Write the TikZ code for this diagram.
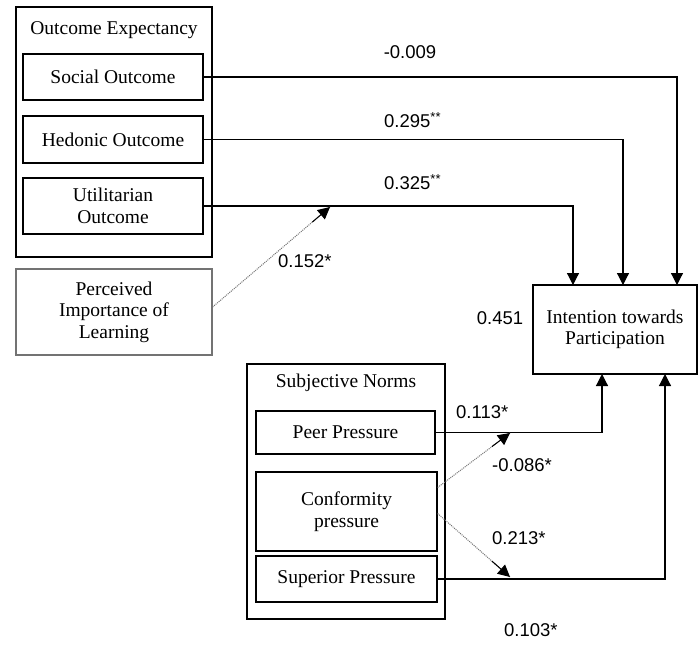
\documentclass[tikz,border=0pt]{standalone}
\usepackage{fontspec}
\setmainfont{Liberation Serif}
\newfontfamily\numfont{Liberation Sans}
\usetikzlibrary{arrows.meta,calc}
\begin{document}
\begin{tikzpicture}[x=1pt,y=-1pt,
  box/.style={draw=black,line width=1.2pt,align=center,inner sep=0pt,
    font=\fontsize{19.5}{21.5}\selectfont},
  gbox/.style={draw=black!55,line width=1.2pt,align=center,inner sep=0pt,
    font=\fontsize{19.5}{21.5}\selectfont},
  title/.style={font=\fontsize{19.5}{21.5}\selectfont,inner sep=0pt},
  path/.style={line width=1.2pt,-{Triangle[length=12pt,width=12pt]}},
  mod/.style={draw=black!55,line width=1pt,densely dotted},
  modtip/.style={solid,draw=black,line width=1pt,-{Triangle[length=12pt,width=12pt]}},
  coef/.style={font=\numfont\fontsize{18.5}{20}\selectfont,inner sep=0pt}]
\useasboundingbox[fill=white] (0,0) rectangle (699,645);

% Outcome expectancy group
\node[box,minimum width=196pt,minimum height=250pt] (oe) at (114,132) {};
\node[title] (oet) at (114,30) {Outcome Expectancy};
\node[box,minimum width=180pt,minimum height=46pt] (soc) at (113,77) {Social Outcome};
\node[box,minimum width=180pt,minimum height=47pt] (hed) at (113,139.5) {Hedonic Outcome};
\node[box,minimum width=180pt,minimum height=56pt] (uti) at (113,206) {Utilitarian\\Outcome};

\node[gbox,minimum width=196pt,minimum height=86pt] (pil) at (114,312) {Perceived\\Importance of\\Learning};

% Intention
\node[box,minimum width=164pt,minimum height=89pt] (int) at (615,329.5) {Intention towards\\Participation};

% Subjective norms group
\node[box,minimum width=198pt,minimum height=255pt] (sn) at (346,491.5) {};
\node[title] (snt) at (346,383) {Subjective Norms};
\node[box,minimum width=179pt,minimum height=43pt] (peer) at (345.5,432.5) {Peer Pressure};
\node[box,minimum width=181pt,minimum height=79pt] (conf) at (346.5,511.5) {Conformity\\pressure};
\node[box,minimum width=181pt,minimum height=46pt] (sup) at (346.5,579) {Superior Pressure};

% end points on intention box
\coordinate (inSoc) at (677,285);
\coordinate (inHed) at (623,285);
\coordinate (inUti) at (573,285);
\coordinate (inPeer) at (602,374);
\coordinate (inSup) at (665,374);
% moderation points
\coordinate (m1) at (330,207);
\coordinate (m2) at (510,433);
\coordinate (m3) at (510,577);
% moderation start points
\coordinate (s1) at ($(pil.east)+(0,-5)$);
\coordinate (s2) at ($(conf.east)+(0,-24)$);
\coordinate (s3) at ($(conf.east)+(0,2)$);

\draw[path] (soc.east) -| (inSoc);
\draw[path] (hed.east) -| (inHed);
\draw[path] (uti.east) -| (inUti);
\draw[path] (peer.east) -| (inPeer);
\draw[path] (sup.east) -| (inSup);

\draw[mod] (s1) -- (m1);
\draw[mod] (s2) -- (m2);
\draw[mod] (s3) -- (m3);
\draw[modtip] ($(s1)!0.85!(m1)$) -- (m1);
\draw[modtip] ($(s2)!0.75!(m2)$) -- (m2);
\draw[modtip] ($(s3)!0.75!(m3)$) -- (m3);

% coefficients
\node[coef] (c1) at (410,52) {-0.009};
\node[coef,anchor=west] (c2) at (384,120) {0.295\textsuperscript{**}};
\node[coef,anchor=west] (c3) at (384,182) {0.325\textsuperscript{**}};
\node[coef,anchor=west] (c4) at (278,261) {0.152*};
\node[coef] (c5) at (500,318) {0.451};
\node[coef,anchor=west] (c6) at (456,412) {0.113*};
\node[coef,anchor=west] (c7) at (492,465) {-0.086*};
\node[coef,anchor=west] (c8) at (492,538) {0.213*};
\node[coef,anchor=west] (c9) at (504,630) {0.103*};
\end{tikzpicture}
\end{document}
